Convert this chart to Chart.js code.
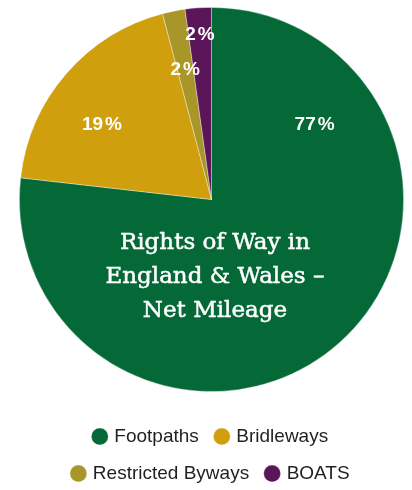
<!DOCTYPE html>
<html><head><meta charset="utf-8">
<script src="https://cdn.jsdelivr.net/npm/chart.js@4"></script>
<style>
html,body{margin:0;padding:0;background:#fff;overflow:hidden;}
#wrap{width:412px;height:490px;overflow:hidden;position:relative;}
canvas{display:block;}
</style></head><body>
<div id="wrap"><canvas id="c" width="412" height="493"></canvas></div>
<script>
const categories = ['Footpaths', 'Bridleways', 'Restricted Byways', 'BOATS'];
const shares = [76.8, 19.1, 1.9, 2.2];
const titleLines = ['Rights of Way in', 'England & Wales –', 'Net Mileage'];
const colors = ['#046837', '#CF9F0D', '#A99628', '#5B1659'];

const total = shares.reduce((a, b) => a + b, 0);
const percentLabels = shares.map(v => Math.round(v / total * 100) + '%');

// label placement inside each slice: fraction along the slice, fraction of radius
const labelPlacement = [
  {along: 0.193, r: 0.669},
  {along: 0.413, r: 0.695},
  {along: 0.5, r: 0.696},
  {along: 0.5, r: 0.869}
];

const pieText = {
  id: 'pieText',
  afterDatasetsDraw(chart) {
    const ctx = chart.ctx;
    const arcs = chart.getDatasetMeta(0).data;
    if (!arcs.length) return;
    const cx = arcs[0].x, cy = arcs[0].y, R = arcs[0].outerRadius;
    ctx.save();
    ctx.fillStyle = '#ffffff';
    ctx.strokeStyle = '#ffffff';
    ctx.textAlign = 'center';
    ctx.textBaseline = 'alphabetic';
    ctx.font = 'bold 19px "Liberation Sans", Arial, sans-serif';
    arcs.forEach((arc, i) => {
      const p = labelPlacement[i];
      const a = arc.startAngle + (arc.endAngle - arc.startAngle) * p.along;
      const x = cx + Math.cos(a) * R * p.r;
      const y = cy + Math.sin(a) * R * p.r;
      const txt = percentLabels[i];
      const num = txt.slice(0, -1);
      const wNum = ctx.measureText(num).width;
      const wPct = ctx.measureText('%').width;
      const gap = 2;
      const start = x - (wNum + gap + wPct) / 2;
      ctx.textAlign = 'left';
      ctx.fillText(num, start, y + 6.8);
      ctx.fillText('%', start + wNum + gap, y + 6.8);
    });
    ctx.textAlign = 'center';
    ctx.font = '23px "DejaVu Serif", serif';
    ctx.lineWidth = 0.5;
    titleLines.forEach((t, k) => {
      const tx = cx + R * 0.018, ty = cy + R * (0.26 + k * 0.175);
      ctx.fillText(t, tx, ty);
      ctx.strokeText(t, tx, ty);
    });
    ctx.restore();
  }
};

new Chart(document.getElementById('c'), {
  type: 'pie',
  data: {
    labels: categories,
    datasets: [{
      data: shares,
      backgroundColor: colors,
      borderColor: 'rgba(255,255,255,0.45)',
      borderWidth: 0.8
    }]
  },
  options: {
    responsive: false,
    animation: false,
    layout: {padding: {top: 7, left: 11, right: 0, bottom: 0}},
    plugins: {
      legend: {
        position: 'bottom',
        title: {display: true, text: '', font: {size: 1, lineHeight: 1}, padding: {top: 16, bottom: 0}},
        labels: {
          usePointStyle: true,
          pointStyle: 'circle',
          boxWidth: 10,
          boxHeight: 12,
          padding: 18,
          color: '#231F20',
          font: {family: '"Liberation Sans", Arial, sans-serif', size: 19}
        }
      },
      tooltip: {enabled: false}
    }
  },
  plugins: [pieText]
});
</script>
</body></html>
